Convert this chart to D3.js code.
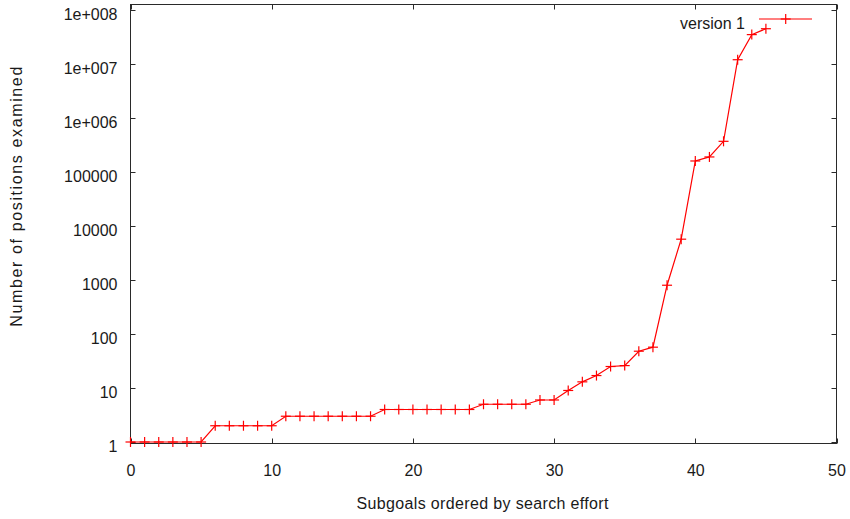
<!DOCTYPE html>
<html>
<head>
<meta charset="utf-8">
<script src="https://cdn.jsdelivr.net/npm/d3@7"></script>
<style>
  body { margin: 0; background: #fff; }
  svg { display: block; }
  text { font-family: "Liberation Sans", Arial, sans-serif; font-size: 16px; fill: #1a1a1a; }
</style>
</head>
<body>
<svg id="chart" width="850" height="519"></svg>
<script>
// Subgoal index (ordered by search effort) and positions examined
const subgoals = [0,1,2,3,4,5,6,7,8,9,10,11,12,13,14,15,16,17,18,19,20,21,22,23,24,
  25,26,27,28,29,30,31,32,33,34,35,36,37,38,39,40,41,42,43,44,45];
const positions = [1,1,1,1,1,1,2,2,2,2,2,3,3,3,3,3,3,3,4,4,4,4,4,4,4,
  5,5,5,5,6,6,9,13,17,25,26,48,57,800,5700,160000,190000,370000,12000000,35000000,45000000];

const xTicks = [0,10,20,30,40,50];
const yTicks = [1,10,100,1000,10000,100000,1e6,1e7,1e8];
const yTickLabels = ["1","10","100","1000","10000","100000","1e+006","1e+007","1e+008"];
const seriesName = "version 1";

const svg = d3.select("#chart");
const plotLeft = 130.5, plotRight = 836.5, plotTop = 4.5, plotBottom = 443.5;

const x = d3.scaleLinear().domain([0, 50]).range([plotLeft, plotRight]);
const y = d3.scaleLog().domain([1, 1e8]).range([442, 10]);

const axisColor = "#2a2a2a";
const tickLen = 5;

// frame
svg.append("rect")
  .attr("x", plotLeft).attr("y", plotTop)
  .attr("width", plotRight - plotLeft).attr("height", plotBottom - plotTop)
  .attr("fill", "none").attr("stroke", axisColor).attr("stroke-width", 1);

// x ticks (bottom and mirrored at top)
const gx = svg.append("g");
xTicks.forEach(t => {
  const px = Math.round(x(t)) + 0.5;
  gx.append("line").attr("x1", px).attr("x2", px).attr("y1", plotBottom).attr("y2", plotBottom - tickLen).attr("stroke", axisColor);
  gx.append("line").attr("x1", px).attr("x2", px).attr("y1", plotTop).attr("y2", plotTop + tickLen).attr("stroke", axisColor);
  gx.append("text").attr("x", x(t) + 0.5).attr("y", 476).attr("text-anchor", "middle").text(t);
});

// y ticks (left and mirrored at right)
const gy = svg.append("g");
yTicks.forEach((t, i) => {
  const py = Math.round(y(t)) + 0.5;
  gy.append("line").attr("x1", plotLeft).attr("x2", plotLeft + tickLen).attr("y1", py).attr("y2", py).attr("stroke", axisColor);
  gy.append("line").attr("x1", plotRight).attr("x2", plotRight - tickLen).attr("y1", py).attr("y2", py).attr("stroke", axisColor);
  gy.append("text").attr("x", 117.5).attr("y", y(t) + 9.5).attr("text-anchor", "end").text(yTickLabels[i]);
});

// axis titles
svg.append("text").attr("x", 482.5).attr("y", 509).attr("text-anchor", "middle")
  .attr("textLength", 252).attr("lengthAdjust", "spacing")
  .text("Subgoals ordered by search effort");
svg.append("text").attr("transform", "translate(21.5,196.7) rotate(-90)").attr("text-anchor", "middle")
  .attr("textLength", 260).attr("lengthAdjust", "spacing")
  .text("Number of positions examined");

// series
const data = subgoals.map((s, i) => ({ s, v: positions[i] }));
const red = "#ff0000";
const line = d3.line().x(d => x(d.s)).y(d => y(d.v));
svg.append("path").datum(data).attr("d", line)
  .attr("fill", "none").attr("stroke", red).attr("stroke-width", 1.2);

const plus = (g, cx, cy, r) => {
  g.append("line").attr("x1", cx - r).attr("x2", cx + r).attr("y1", cy).attr("y2", cy).attr("stroke", red).attr("stroke-width", 1.2);
  g.append("line").attr("x1", cx).attr("x2", cx).attr("y1", cy - r).attr("y2", cy + r).attr("stroke", red).attr("stroke-width", 1.2);
};
const gm = svg.append("g");
data.forEach(d => plus(gm, x(d.s), y(d.v), 5));

// legend
const gl = svg.append("g");
gl.append("text").attr("x", 745).attr("y", 28.5).attr("text-anchor", "end").text(seriesName);
gl.append("line").attr("x1", 759).attr("x2", 812).attr("y1", 19).attr("y2", 19)
  .attr("stroke", red).attr("stroke-width", 1.2);
plus(gl, 785.7, 19, 5);
</script>
</body>
</html>
